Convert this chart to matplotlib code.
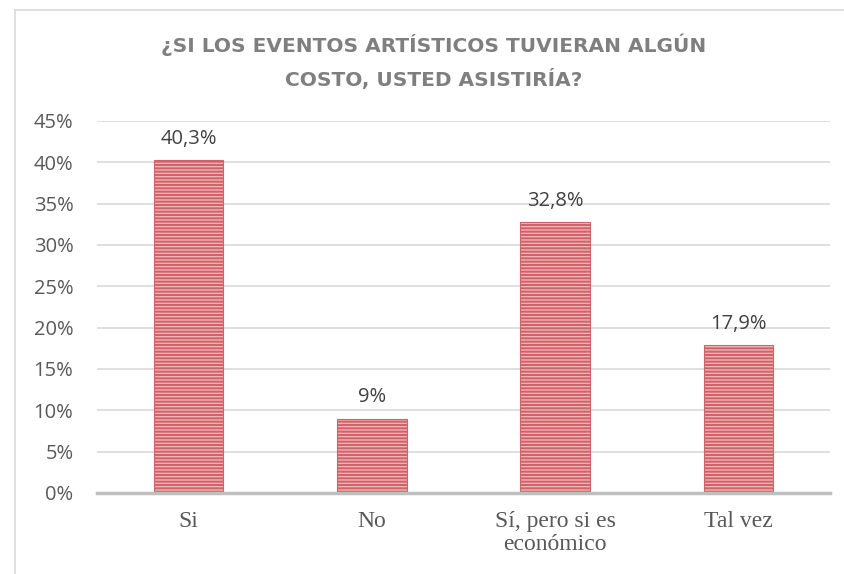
import matplotlib
matplotlib.use("Agg")
import matplotlib.pyplot as plt
from matplotlib.lines import Line2D

categories = ["Si", "No", "Sí, pero si es\neconómico", "Tal vez"]
values = [40.3, 9.0, 32.8, 17.9]
value_labels = ["40,3%", "9%", "32,8%", "17,9%"]
yticks = [0, 5, 10, 15, 20, 25, 30, 35, 40, 45]
ytick_labels = ["0%", "5%", "10%", "15%", "20%", "25%", "30%", "35%", "40%", "45%"]
title = "¿SI LOS EVENTOS ARTÍSTICOS TUVIERAN ALGÚN\nCOSTO, USTED ASISTIRÍA?"

plt.rcParams["hatch.linewidth"] = 1.5
plt.rcParams["hatch.color"] = "#c4464e"

fig = plt.figure(figsize=(8.45, 5.74), dpi=100)
ax = fig.add_axes([97/845, 1-493/574, (830-97)/845, (493-121)/574])

x = list(range(len(categories)))
bars = ax.bar(x, values, width=0.38, color="#f3b9bc", edgecolor="#d0636a",
              linewidth=0.8, hatch="-----", zorder=3)

ax.set_xlim(-0.5, 3.5)
ax.set_ylim(0, 45)
ax.set_yticks(yticks)
ax.set_yticklabels(ytick_labels, fontfamily="Open Sans", fontsize=14.5, color="#595959")
ax.set_xticks(x)
ax.set_xticklabels(categories, fontfamily="Liberation Serif", fontsize=17, color="#595959",
                   linespacing=1.1, va="top")
ax.tick_params(axis="both", length=0)
ax.tick_params(axis="y", pad=17)
ax.tick_params(axis="x", pad=13)

for s in ["top", "right", "left"]:
    ax.spines[s].set_visible(False)
ax.spines["bottom"].set_color("#bfbfbf")
ax.spines["bottom"].set_linewidth(2.5)
ax.spines["bottom"].set_zorder(4)

ax.yaxis.grid(True, color="#d9d9d9", linewidth=1.2, zorder=0)
ax.set_axisbelow(True)

for xi, v, lab in zip(x, values, value_labels):
    ax.annotate(lab, (xi, v), xytext=(0, 8), textcoords="offset points",
                ha="center", va="bottom", fontfamily="Open Sans", fontsize=14.5,
                color="#404040")

fig.text(434/845, 1-62/574, title, ha="center", va="center", fontfamily="DejaVu Sans",
         fontweight="bold", fontsize=14.5, color="#7f7f7f", linespacing=1.75)

# chart border (left and top)
fig.add_artist(Line2D([15/845, 15/845], [0, 1-10/574], transform=fig.transFigure,
                      color="#d9d9d9", linewidth=1.2))
fig.add_artist(Line2D([15/845, 1], [1-10/574, 1-10/574], transform=fig.transFigure,
                      color="#d9d9d9", linewidth=1.2))

fig.savefig("out.png", dpi=100, facecolor="white")
